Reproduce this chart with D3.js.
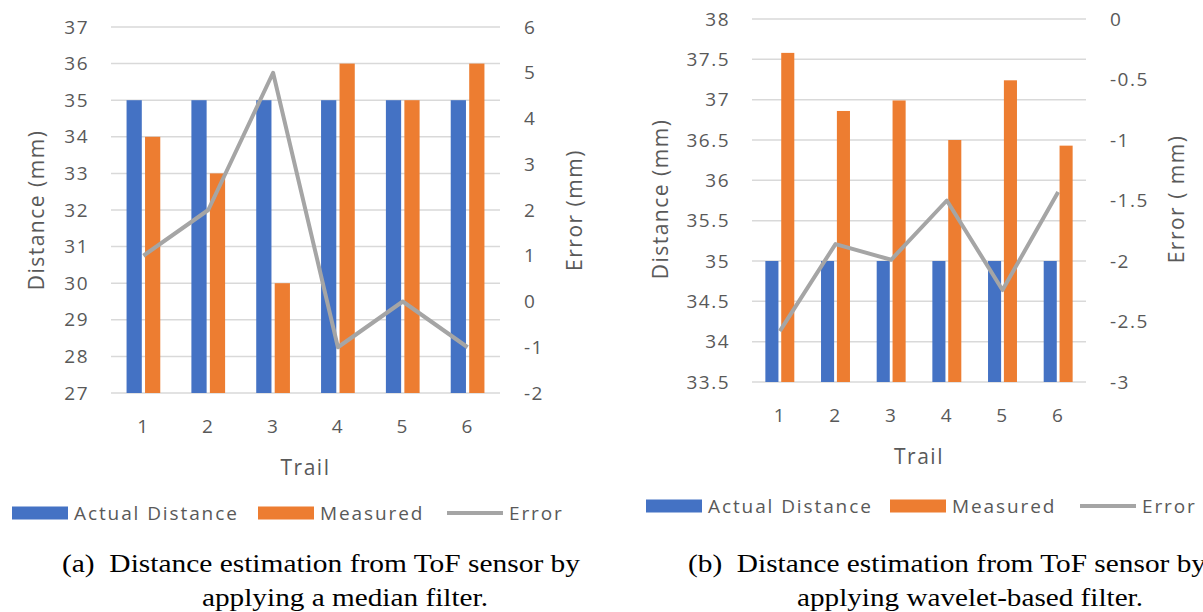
<!DOCTYPE html>
<html>
  <meta charset="utf-8" />
  <script src="https://d3js.org/d3.v7.min.js"></script>
  <style>
    body { margin: 0; background: #fff; }
    .tick-label { font-family: "Open Sans", sans-serif; font-size: 19px; fill: #595959; letter-spacing: 1.5px; }
    .axis-title { font-family: "Open Sans", sans-serif; font-size: 21px; fill: #595959; letter-spacing: 1.5px; }
    .legend-text { font-family: "Open Sans", sans-serif; font-size: 19px; fill: #595959; letter-spacing: 1.9px; }
    .caption { font-family: "Liberation Serif", "Times New Roman", serif; font-size: 26px; fill: #000; white-space: pre; }
  </style>
  <body>
    <svg width="1203" height="612" id="svg_chart"></svg>
    <script>
      // data
      const trials = ["1", "2", "3", "4", "5", "6"];

      // (a) median filter
      const actualA = [35, 35, 35, 35, 35, 35];
      const measuredA = [34, 33, 30, 36, 35, 36];
      const errorA = [1, 2, 5, -1, 0, -1];
      const distTicksA = [27, 28, 29, 30, 31, 32, 33, 34, 35, 36, 37];
      const errTicksA = [-2, -1, 0, 1, 2, 3, 4, 5, 6];

      // (b) wavelet-based filter
      const actualB = [35, 35, 35, 35, 35, 35];
      const measuredB = [37.58, 36.86, 36.99, 36.5, 37.24, 36.43];
      const errorB = [-2.58, -1.86, -1.99, -1.5, -2.24, -1.43];
      const distTicksB = [33.5, 34, 34.5, 35, 35.5, 36, 36.5, 37, 37.5, 38];
      const errTicksB = [-3, -2.5, -2, -1.5, -1, -0.5, 0];

      const legendLabels = ["Actual Distance", "Measured", "Error"];
      const colors = ["#4472C4", "#ED7D31", "#A5A5A5"];

      const svg = d3.select("svg");

      function comboChart(o) {
        const x = d3.scaleBand().domain(trials).range([o.left, o.right]).padding(0);
        const yL = d3.scaleLinear().domain(d3.extent(o.distTicks)).range([o.bottom, o.top]);
        const yR = d3.scaleLinear().domain(d3.extent(o.errTicks)).range([o.bottom, o.top]);

        const g = svg.append("g");

        // gridlines
        g.selectAll(".grid")
          .data(o.distTicks)
          .enter()
          .append("line")
          .attr("x1", o.left)
          .attr("x2", o.right)
          .attr("y1", (d) => yL(d))
          .attr("y2", (d) => yL(d))
          .attr("stroke", "#D9D9D9")
          .attr("stroke-width", 1.5);

        const bw = x.bandwidth() * 0.235;
        const gap = x.bandwidth() * 0.05;

        g.selectAll(".actual")
          .data(o.actual)
          .enter()
          .append("rect")
          .attr("x", (d, i) => x(trials[i]) + x.bandwidth() / 2 - gap / 2 - bw)
          .attr("y", (d) => yL(d))
          .attr("width", bw)
          .attr("height", (d) => o.bottom - yL(d))
          .attr("fill", colors[0]);

        g.selectAll(".measured")
          .data(o.measured)
          .enter()
          .append("rect")
          .attr("x", (d, i) => x(trials[i]) + x.bandwidth() / 2 + gap / 2)
          .attr("y", (d) => yL(d))
          .attr("width", bw)
          .attr("height", (d) => o.bottom - yL(d))
          .attr("fill", colors[1]);

        const line = d3
          .line()
          .x((d, i) => x(trials[i]) + x.bandwidth() / 2)
          .y((d) => yR(d));

        g.append("path")
          .datum(o.error)
          .attr("d", line)
          .attr("fill", "none")
          .attr("stroke", colors[2])
          .attr("stroke-width", 4)
          .attr("stroke-linejoin", "round");

        // plain hyphen minus like the original
        const fmt = (d) => String(d);

        const axL = g.append("g")
          .attr("transform", `translate(${o.left - 22},0)`)
          .call(d3.axisLeft(yL).tickValues(o.distTicks).tickSize(0).tickPadding(0).tickFormat(fmt));
        axL.select(".domain").remove();

        const axR = g.append("g")
          .attr("transform", `translate(${o.right + 24},0)`)
          .call(d3.axisRight(yR).tickValues(o.errTicks).tickSize(0).tickPadding(0).tickFormat(fmt));
        axR.select(".domain").remove();

        const axB = g.append("g")
          .attr("transform", `translate(0,${o.bottom + 26})`)
          .call(d3.axisBottom(x).tickSize(0).tickPadding(0));
        axB.select(".domain").remove();

        g.selectAll(".tick text")
          .attr("class", "tick-label")
          .attr("font-family", null)
          .attr("font-size", null)
          .attr("fill", null);

        // titles
        g.append("text")
          .attr("class", "axis-title")
          .attr("text-anchor", "middle")
          .attr("transform", `translate(${o.ltX},${o.titleY}) rotate(-90)`)
          .attr("dy", "0.35em")
          .text("Distance (mm)");

        g.append("text")
          .attr("class", "axis-title")
          .attr("text-anchor", "middle")
          .attr("transform", `translate(${o.rtX},${o.titleY}) rotate(-90)`)
          .attr("dy", "0.35em")
          .text(o.errTitle);

        g.append("text")
          .attr("class", "axis-title")
          .attr("text-anchor", "middle")
          .attr("x", (o.left + o.right) / 2)
          .attr("y", o.bottom + 75)
          .attr("dy", "0.35em")
          .text("Trail");

        // legend
        const lg = g.append("g").attr("transform", `translate(0,${o.legendY})`);
        lg.selectAll(".sw")
          .data(legendLabels)
          .enter()
          .each(function (d, i) {
            const s = d3.select(this);
            const lx = o.legendX[i];
            if (i < 2) {
              s.append("rect").attr("x", lx).attr("y", -6.5).attr("width", 56).attr("height", 13).attr("fill", colors[i]);
            } else {
              s.append("line").attr("x1", lx).attr("x2", lx + 56).attr("y1", 0).attr("y2", 0)
                .attr("stroke", colors[2]).attr("stroke-width", 4);
            }
            s.append("text").attr("class", "legend-text").attr("x", lx + 62).attr("y", 0).attr("dy", "0.35em").text(d);
          });

        // caption
        g.append("text").attr("class", "caption")
          .attr("x", o.capX).attr("y", 572)
          .attr("textLength", 518).attr("lengthAdjust", "spacingAndGlyphs")
          .text(o.cap1);
        g.append("text").attr("class", "caption")
          .attr("x", o.cap2X).attr("y", 606)
          .attr("textLength", o.cap2W).attr("lengthAdjust", "spacingAndGlyphs")
          .text(o.cap2);
      }

      comboChart({
        left: 111, right: 500, top: 27, bottom: 393,
        actual: actualA, measured: measuredA, error: errorA,
        distTicks: distTicksA, errTicks: errTicksA,
        ltX: 37, rtX: 575, titleY: 210, errTitle: "Error (mm)",
        legendY: 513, legendX: [12, 258, 447],
        capX: 62, cap1: "(a)  Distance estimation from ToF sensor by",
        cap2X: 202, cap2W: 286, cap2: "applying a median filter."
      });

      comboChart({
        left: 752, right: 1086, top: 19, bottom: 382,
        actual: actualB, measured: measuredB, error: errorB,
        distTicks: distTicksB, errTicks: errTicksB,
        ltX: 661, rtX: 1177, titleY: 199, errTitle: "Error ( mm)",
        legendY: 506, legendX: [646, 890, 1080],
        capX: 688, cap1: "(b)  Distance estimation from ToF sensor by",
        cap2X: 797, cap2W: 346, cap2: "applying wavelet-based filter."
      });
    </script>
  </body>
</html>
